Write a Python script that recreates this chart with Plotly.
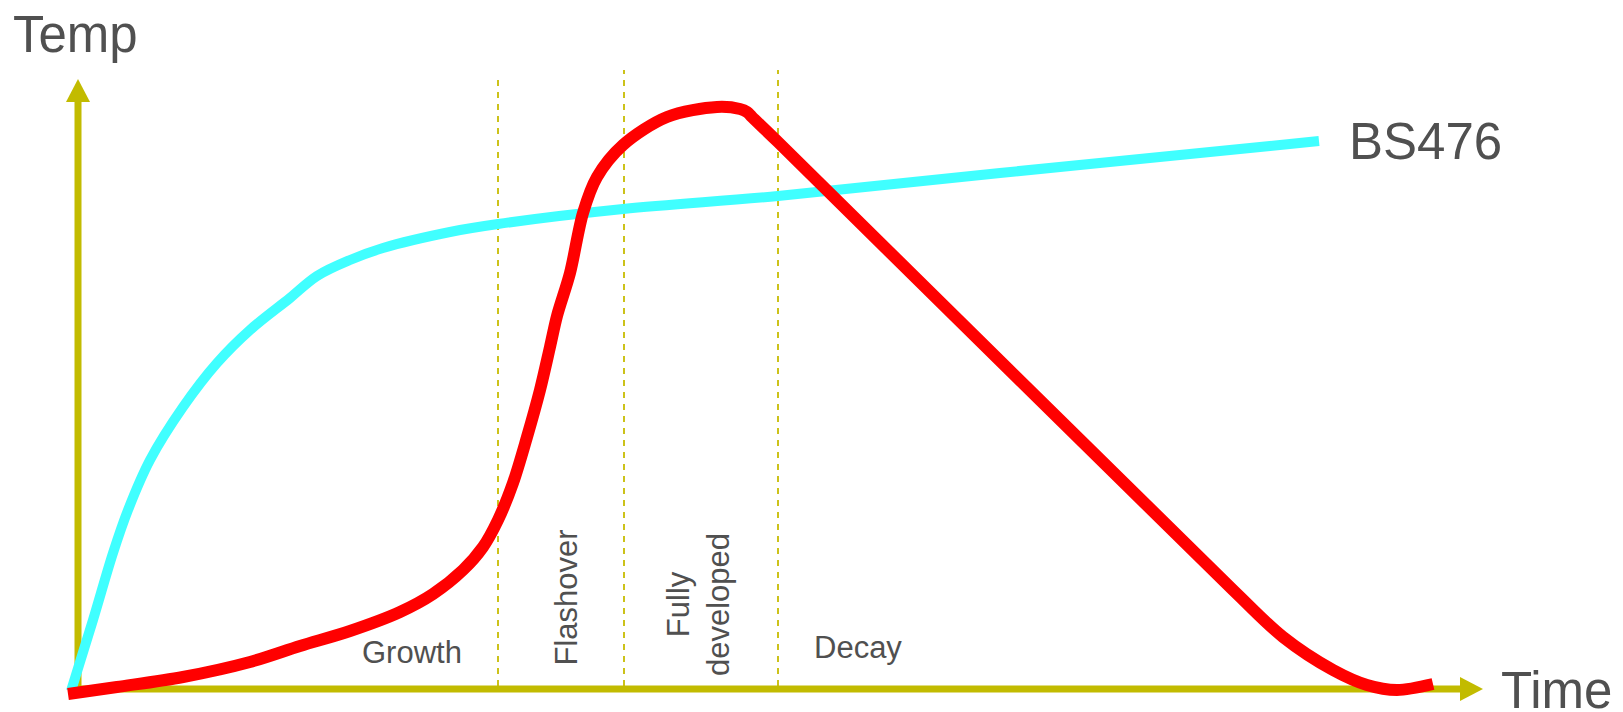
import plotly.graph_objects as go

# ---- data (time in minutes, temperature in deg C) ----
bs476_time = [-0.7, 1.5, 3.5, 5.0, 7.2, 10.5, 13.9, 17.2, 21.2, 23.9, 27.2, 30.5,
              37.2, 42.0, 54.5, 70.0, 92.2, 119.2, 124.1]
bs476_temp = [-4, 138, 272, 358, 458, 564, 652, 718, 782, 826, 858, 882,
              914, 930, 960, 986, 1032, 1086, 1096]

fire_time = [-1.0, 3.9, 10.5, 17.2, 22.2, 27.2, 32.2, 35.5, 38.5, 40.5, 42.0, 43.5,
             44.9, 46.2, 47.2, 47.9, 49.2, 50.5, 51.9, 54.5, 58.9, 63.9, 66.2, 66.9,
             67.4, 70.0, 115.5, 120.5, 125.5, 128.9, 131.9, 135.5]
fire_temp = [-10, 4, 24, 54, 86, 116, 154, 190, 238, 284, 338, 412,
             504, 598, 684, 746, 832, 952, 1024, 1088, 1144, 1164, 1160, 1154,
             1144, 1094, 198, 104, 38, 8, -2, 10]

phase_bounds = [42.0, 54.6, 70.0]
phase_tops = [1227, 1238, 1238]

phase_labels = ["Growth", "Flashover", "Fully<br>developed", "Decay"]
axis_x_label = "Time"
axis_y_label = "Temp"
series_label = "BS476"

# axis extents (data units)
x_axis_end = 140.5
y_axis_end = 1220

axis_color = "#C2BB00"
dash_color = "#CCC21A"
text_color = "#505050"
font_family = "Arial, Liberation Sans, sans-serif"

fig = go.Figure()

fig.add_trace(go.Scatter(x=bs476_time, y=bs476_temp, mode="lines",
                         line=dict(color="#40FFFF", width=10, shape="spline", smoothing=1.0),
                         hoverinfo="skip", showlegend=False))
fig.add_trace(go.Scatter(x=fire_time, y=fire_temp, mode="lines",
                         line=dict(color="#FF0000", width=12, shape="spline", smoothing=0.9),
                         hoverinfo="skip", showlegend=False))

shapes = []
# phase boundaries
for xb, top in zip(phase_bounds, phase_tops):
    shapes.append(dict(type="line", x0=xb, x1=xb, y0=6, y1=top, xref="x", yref="y",
                       line=dict(color=dash_color, width=2, dash="6px,6px"), layer="below"))
# axes with arrow heads
head_len_x, head_half_x = 2.3, 24
head_len_y, head_half_y = 46, 1.2
shapes.append(dict(type="line", x0=-0.4, x1=x_axis_end - head_len_x, y0=0, y1=0,
                   line=dict(color=axis_color, width=7), layer="below"))
shapes.append(dict(type="line", x0=0, x1=0, y0=0, y1=y_axis_end - head_len_y,
                   line=dict(color=axis_color, width=7), layer="below"))
shapes.append(dict(type="path",
                   path=f"M {x_axis_end - head_len_x} {-head_half_x} L {x_axis_end} 0 L {x_axis_end - head_len_x} {head_half_x} Z",
                   fillcolor=axis_color, line=dict(width=0), layer="below"))
shapes.append(dict(type="path",
                   path=f"M {-head_half_y} {y_axis_end - head_len_y} L 0 {y_axis_end} L {head_half_y} {y_axis_end - head_len_y} Z",
                   fillcolor=axis_color, line=dict(width=0), layer="below"))

big = dict(family=font_family, size=51, color=text_color)
small = dict(family=font_family, size=31, color=text_color)
annotations = [
    dict(x=-6.6, y=1310, text=axis_y_label, xanchor="left", yanchor="middle", font=big),
    dict(x=142.2, y=-2, text=axis_x_label, xanchor="left", yanchor="middle", font=big),
    dict(x=127.0, y=1095, text=series_label, xanchor="left", yanchor="middle", font=big),
    dict(x=33.4, y=73, text=phase_labels[0], xanchor="center", yanchor="middle", font=small),
    dict(x=48.75, y=182, text=phase_labels[1], xanchor="center", yanchor="middle",
         textangle=-90, font=small),
    dict(x=62.0, y=168, text=phase_labels[2], xanchor="center", yanchor="middle",
         textangle=-90, font=small, align="center"),
    dict(x=73.5, y=84, text=phase_labels[3], xanchor="left", yanchor="middle", font=small),
]
for a in annotations:
    a.update(xref="x", yref="y", showarrow=False, borderpad=0)

fig.update_layout(
    width=1623, height=712,
    margin=dict(l=0, r=0, t=0, b=0),
    paper_bgcolor="white", plot_bgcolor="white",
    xaxis=dict(range=[-7.8, 154.5], visible=False, fixedrange=True),
    yaxis=dict(range=[-46, 1378], visible=False, fixedrange=True),
    shapes=shapes, annotations=annotations, showlegend=False,
)

fig.write_html("out.html", config={"displayModeBar": False})
